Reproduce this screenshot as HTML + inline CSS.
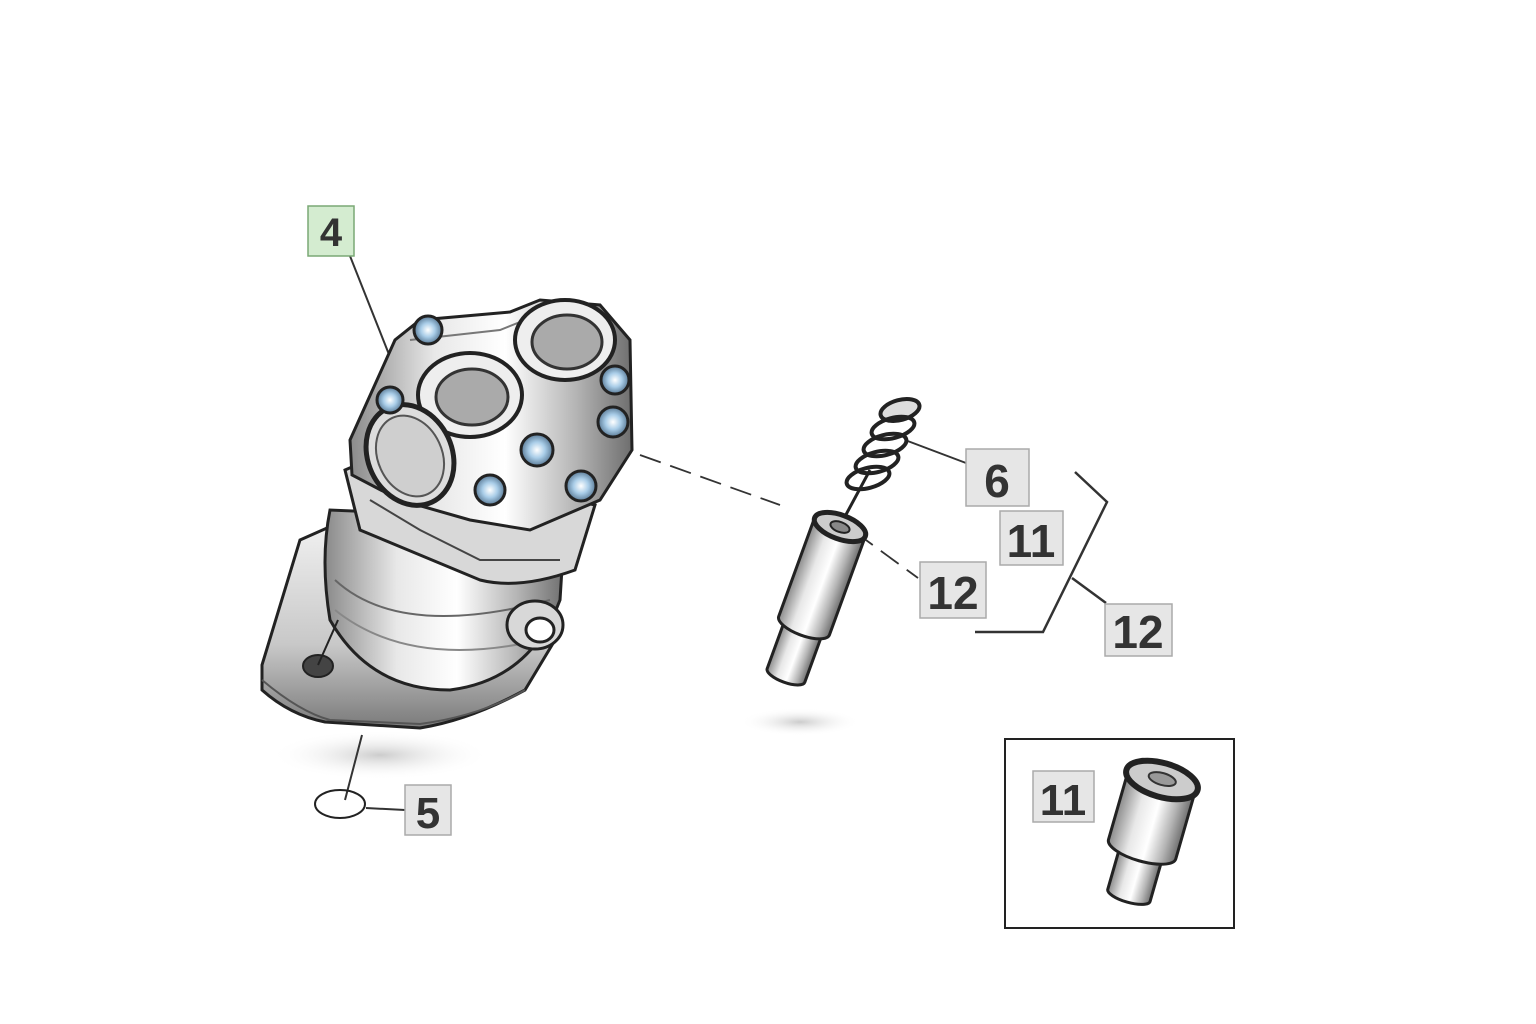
<!DOCTYPE html>
<html><head><style>
html,body{margin:0;padding:0;background:#fff;}
svg{display:block;}
text{font-family:"Liberation Sans",sans-serif;font-weight:bold;fill:#333;}
</style></head><body>
<svg width="1536" height="1024" viewBox="0 0 1536 1024" xmlns="http://www.w3.org/2000/svg">
<defs>
<linearGradient id="metal" x1="0" y1="0" x2="1" y2="0">
<stop offset="0" stop-color="#8a8a8a"/><stop offset="0.3" stop-color="#e8e8e8"/><stop offset="0.55" stop-color="#ffffff"/><stop offset="0.8" stop-color="#b5b5b5"/><stop offset="1" stop-color="#6e6e6e"/>
</linearGradient>
<linearGradient id="metal2" x1="0" y1="0" x2="0" y2="1">
<stop offset="0" stop-color="#f2f2f2"/><stop offset="0.6" stop-color="#c8c8c8"/><stop offset="1" stop-color="#7a7a7a"/>
</linearGradient>
<radialGradient id="bolt"><stop offset="0" stop-color="#fff"/><stop offset="0.5" stop-color="#a9cde8"/><stop offset="1" stop-color="#5a7a96"/></radialGradient>
<radialGradient id="shadow"><stop offset="0" stop-color="#ccc"/><stop offset="1" stop-color="#fff" stop-opacity="0"/></radialGradient>
</defs>

<ellipse cx="380" cy="755" rx="110" ry="25" fill="url(#shadow)"/>
<ellipse cx="800" cy="722" rx="60" ry="14" fill="url(#shadow)"/>

<line x1="350" y1="256" x2="392" y2="362" stroke="#333" stroke-width="2"/>
<path d="M640 455 L780 505" stroke="#333" stroke-width="1.8" stroke-dasharray="22 10" fill="none"/>
<path d="M855 532 L918 578" stroke="#333" stroke-width="1.8" stroke-dasharray="22 10" fill="none"/>
<line x1="905" y1="440" x2="966" y2="463" stroke="#333" stroke-width="2"/>
<path d="M1075 472 L1107 502 L1043 632 L975 632" stroke="#333" stroke-width="2.5" fill="none"/>
<line x1="1072" y1="578" x2="1106" y2="603" stroke="#333" stroke-width="2.5"/>
<line x1="362" y1="735" x2="345" y2="800" stroke="#333" stroke-width="2"/>
<ellipse cx="340" cy="804" rx="25" ry="14" fill="none" stroke="#222" stroke-width="2"/>
<line x1="366" y1="808" x2="405" y2="810" stroke="#333" stroke-width="2"/>
<line x1="1094" y1="800" x2="1118" y2="808" stroke="#333" stroke-width="2"/>

<path d="M300 540 L345 520 L555 640 L525 690 Q470 720 420 728 L325 722 Q290 715 262 690 L262 665 Z" fill="url(#metal2)" stroke="#222" stroke-width="3"/>
<path d="M262 680 Q300 712 330 720 L420 724 Q480 716 525 690" fill="none" stroke="#555" stroke-width="2"/>
<ellipse cx="318" cy="666" rx="15" ry="11" fill="#444" stroke="#222" stroke-width="2"/>
<path d="M330 510 Q320 560 330 620 Q370 690 450 690 Q530 680 560 600 L565 520 Z" fill="url(#metal)" stroke="#222" stroke-width="3"/>
<path d="M335 580 Q400 640 550 600" fill="none" stroke="#666" stroke-width="2"/>
<path d="M335 610 Q410 670 540 640" fill="none" stroke="#888" stroke-width="2"/>
<line x1="338" y1="620" x2="318" y2="665" stroke="#222" stroke-width="2"/>
<ellipse cx="535" cy="625" rx="28" ry="24" fill="#d8d8d8" stroke="#222" stroke-width="3"/>
<ellipse cx="540" cy="630" rx="14" ry="12" fill="#fff" stroke="#222" stroke-width="3"/>
<path d="M345 470 L380 455 L595 505 L575 570 Q520 590 480 580 L360 530 Z" fill="#d8d8d8" stroke="#222" stroke-width="3"/>
<path d="M370 500 L420 530 L480 560 L560 560" fill="none" stroke="#444" stroke-width="2"/>
<path d="M350 440 L395 340 L420 320 L510 312 L540 300 L600 305 L630 340 L632 450 L600 500 L530 530 L470 520 L400 500 L352 475 Z" fill="url(#metal)" stroke="#222" stroke-width="3"/>
<path d="M410 340 L500 330 L530 318" fill="none" stroke="#777" stroke-width="2"/>
<ellipse cx="565" cy="340" rx="50" ry="40" fill="#eee" stroke="#222" stroke-width="4"/>
<ellipse cx="567" cy="342" rx="35" ry="27" fill="#aaa" stroke="#333" stroke-width="3"/>
<ellipse cx="470" cy="395" rx="52" ry="42" fill="#eee" stroke="#222" stroke-width="4"/>
<ellipse cx="472" cy="397" rx="36" ry="28" fill="#aaa" stroke="#333" stroke-width="3"/>
<ellipse cx="410" cy="455" rx="42" ry="52" transform="rotate(-25 410 455)" fill="#ddd" stroke="#222" stroke-width="5"/>
<ellipse cx="410" cy="456" rx="32" ry="42" transform="rotate(-25 410 456)" fill="#cfcfcf" stroke="#555" stroke-width="2"/>
<g stroke="#222" stroke-width="3" fill="url(#bolt)">
<circle cx="428" cy="330" r="14"/><circle cx="390" cy="400" r="13"/><circle cx="615" cy="380" r="14"/>
<circle cx="613" cy="422" r="15"/><circle cx="537" cy="450" r="16"/><circle cx="490" cy="490" r="15"/><circle cx="581" cy="486" r="15"/>
</g>

<g fill="none" stroke="#222" stroke-width="4">
<ellipse cx="900" cy="410" rx="20" ry="10" transform="rotate(-15 900 410)" fill="#ddd"/>
<ellipse cx="893" cy="428" rx="22" ry="10" transform="rotate(-15 893 428)"/>
<ellipse cx="885" cy="445" rx="22" ry="10" transform="rotate(-15 885 445)"/>
<ellipse cx="877" cy="462" rx="22" ry="10" transform="rotate(-15 877 462)"/>
<ellipse cx="868" cy="478" rx="22" ry="10" transform="rotate(-15 868 478)"/>
</g>
<line x1="842" y1="522" x2="870" y2="470" stroke="#222" stroke-width="3"/>

<!-- piston -->
<g transform="translate(840 527) rotate(20)">
<path d="M-20 110 L-20 158 A20 7 0 0 0 20 158 L20 110 Z" fill="url(#metal)" stroke="#222" stroke-width="3"/>
<path d="M-27 0 L-27 105 A27 10 0 0 0 27 105 L27 0 Z" fill="url(#metal)" stroke="#222" stroke-width="3"/>
<ellipse cx="0" cy="0" rx="27" ry="12" fill="#ccc" stroke="#222" stroke-width="5"/>
<ellipse cx="0" cy="0" rx="10" ry="5" fill="#888" stroke="#222" stroke-width="2"/>
</g>

<rect x="1005" y="739" width="229" height="189" fill="#fff" stroke="#222" stroke-width="2"/>
<g transform="translate(1162 780) rotate(16)">
<path d="M-22 75 L-22 120 A22 7 0 0 0 22 120 L22 75 Z" fill="url(#metal)" stroke="#222" stroke-width="3"/>
<path d="M-35 0 L-35 72 A35 12 0 0 0 35 72 L35 0 Z" fill="url(#metal)" stroke="#222" stroke-width="3"/>
<ellipse cx="0" cy="0" rx="37" ry="17" fill="#ccc" stroke="#222" stroke-width="6"/>
<ellipse cx="0" cy="-1" rx="14" ry="6" fill="#999" stroke="#333" stroke-width="2"/>
</g>

<g stroke-width="1.5">
<rect x="308" y="206" width="46" height="50" fill="#d4ecd0" stroke="#7aa875"/>
<text x="331" y="246" font-size="40" text-anchor="middle">4</text>
<rect x="966" y="449" width="63" height="57" fill="#e6e6e6" stroke="#aaa"/>
<text x="997" y="497" font-size="46" text-anchor="middle">6</text>
<rect x="1000" y="511" width="63" height="54" fill="#e6e6e6" stroke="#aaa"/>
<text x="1031" y="557" font-size="46" text-anchor="middle">11</text>
<rect x="920" y="562" width="66" height="56" fill="#e6e6e6" stroke="#aaa"/>
<text x="953" y="609" font-size="46" text-anchor="middle">12</text>
<rect x="1105" y="604" width="67" height="52" fill="#e6e6e6" stroke="#aaa"/>
<text x="1138" y="648" font-size="46" text-anchor="middle">12</text>
<rect x="405" y="785" width="46" height="50" fill="#e6e6e6" stroke="#aaa"/>
<text x="428" y="828" font-size="44" text-anchor="middle">5</text>
<rect x="1033" y="771" width="61" height="51" fill="#e6e6e6" stroke="#aaa"/>
<text x="1063" y="815" font-size="44" text-anchor="middle">11</text>
</g>
</svg>
</body></html>
